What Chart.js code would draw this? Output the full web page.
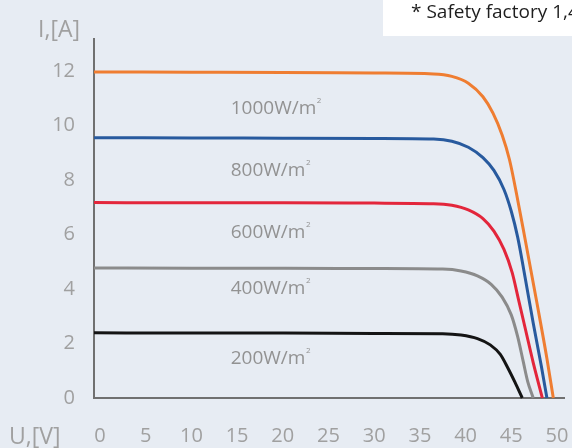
<!DOCTYPE html>
<html>
<head>
<meta charset="utf-8">
<script src="https://cdn.jsdelivr.net/npm/chart.js@4.4.1/dist/chart.umd.min.js"></script>
<style>
  html, body { margin: 0; padding: 0; background: #e7ecf3; }
  #wrap { width: 572px; height: 448px; position: relative; }
</style>
</head>
<body>
<div id="wrap"><canvas id="c"></canvas></div>
<script>
// ---- data ----
const seriesNames = ['1000W/m²', '800W/m²', '600W/m²', '400W/m²', '200W/m²'];
const seriesColors = ['#ef7d31', '#285a9e', '#e3263b', '#8b8b8b', '#141414'];

const u1000 = [-0.66, 10, 20, 30, 36.5, 38.5, 40.3, 41.9, 43.0, 44.0, 44.8, 45.6, 46.5, 47.8, 48.9, 49.6];
const i1000 = [11.96, 11.95, 11.94, 11.92, 11.89, 11.80, 11.55, 11.05, 10.45, 9.65, 8.75, 7.45, 5.85, 3.50, 1.45, 0];

const u800 = [-0.66, 10, 20, 30, 36.5, 38.5, 40.3, 41.9, 43.1, 44.2, 45.0, 45.7, 46.5, 47.4, 48.3, 48.9];
const i800 = [9.55, 9.54, 9.53, 9.52, 9.50, 9.42, 9.20, 8.82, 8.35, 7.65, 6.85, 5.90, 4.45, 2.75, 1.15, 0];

const u600 = [-0.66, 10, 20, 30, 36.5, 38.5, 40.3, 41.9, 43.1, 44.2, 45.1, 45.8, 46.6, 47.4, 48.4];
const i600 = [7.17, 7.16, 7.16, 7.15, 7.13, 7.07, 6.90, 6.58, 6.12, 5.45, 4.60, 3.60, 2.45, 1.30, 0];

const u400 = [-0.66, 10, 20, 30, 37.5, 39.5, 41.3, 42.8, 44.0, 45.0, 45.7, 46.3, 46.8, 47.4];
const i400 = [4.77, 4.76, 4.76, 4.75, 4.73, 4.66, 4.48, 4.17, 3.70, 3.05, 2.25, 1.35, 0.60, 0];

const u200 = [-0.66, 10, 20, 30, 37.5, 39.5, 41.3, 42.7, 43.8, 44.6, 45.4, 46.2];
const i200 = [2.39, 2.38, 2.38, 2.37, 2.36, 2.31, 2.18, 1.95, 1.60, 1.12, 0.58, 0];

const xTicks = [0, 5, 10, 15, 20, 25, 30, 35, 40, 45, 50];
const yTicks = [0, 2, 4, 6, 8, 10, 12];

// label anchor positions (data units) for irradiance captions
const captionU = [14.3, 14.3, 14.3, 14.3, 14.3];
const captionI = [10.62, 8.33, 6.05, 4.0, 1.44];

const xTitle = 'U,[V]';
const yTitle = 'I,[A]';
const noteText = '* Safety factory 1,4';

// ---- build ----
const uSets = [u1000, u800, u600, u400, u200];
const iSets = [i1000, i800, i600, i400, i200];
const datasets = seriesNames.map((name, k) => ({
  label: name,
  data: uSets[k].map((u, j) => ({ x: u, y: iSets[k][j] })),
  borderColor: seriesColors[k],
  borderWidth: 3,
  pointRadius: 0,
  fill: false,
  cubicInterpolationMode: 'monotone',
  clip: false
}));

const TICK_FONT = { family: 'Open Sans', size: 20 };
const TICK_COLOR = '#a0a0a0';

const decor = {
  id: 'decor',
  beforeDraw(chart) {
    const ctx = chart.ctx;
    ctx.save();
    ctx.fillStyle = '#e7ecf3';
    ctx.fillRect(0, 0, chart.width, chart.height);
    // note box
    ctx.fillStyle = '#ffffff';
    ctx.fillRect(383, 0, chart.width - 383, 36);
    ctx.fillStyle = '#1e1e1e';
    ctx.font = '19px "Open Sans"';
    ctx.textBaseline = 'alphabetic';
    ctx.textAlign = 'left';
    ctx.fillText(noteText, 411, 18);
    ctx.restore();
  },
  afterDraw(chart) {
    const ctx = chart.ctx;
    const xs = chart.scales.x, ys = chart.scales.y;
    ctx.save();
    // axis titles
    ctx.fillStyle = TICK_COLOR;
    ctx.font = '23px "Open Sans"';
    ctx.textBaseline = 'middle';
    ctx.textAlign = 'left';
    ctx.fillText(xTitle, 9, 437);
    ctx.fillText(yTitle, 38, 30);
    // captions
    seriesNames.forEach((name, k) => {
      const main = name.slice(0, -1);
      const sup = name.slice(-1) === '²' ? '2' : '';
      const px = xs.getPixelForValue(captionU[k]);
      const py = ys.getPixelForValue(captionI[k]);
      ctx.fillStyle = '#929292';
      ctx.font = '19px "Open Sans"';
      ctx.textAlign = 'left';
      ctx.textBaseline = 'middle';
      ctx.fillText(main, px, py);
      const w = ctx.measureText(main).width;
      ctx.font = '8px "Open Sans"';
      ctx.fillText(sup, px + w + 0.5, py - 8);
    });
    ctx.restore();
  }
};

new Chart(document.getElementById('c'), {
  type: 'line',
  data: { datasets },
  options: {
    responsive: true,
    maintainAspectRatio: false,
    animation: false,
    layout: { padding: { top: 39, right: 8, left: 0, bottom: 0 } },
    plugins: { legend: { display: false }, tooltip: { enabled: false } },
    scales: {
      x: {
        type: 'linear',
        min: -0.66,
        max: 50.77,
        grid: { display: false, drawTicks: false },
        border: { display: true, color: '#707070', width: 2 },
        ticks: { font: TICK_FONT, color: TICK_COLOR, padding: 26, maxRotation: 0, autoSkip: false },
        afterBuildTicks(scale) { scale.ticks = xTicks.map(v => ({ value: v })); },
        afterFit(scale) { scale.height = 50; scale.paddingLeft = 0; scale.paddingRight = 0; }
      },
      y: {
        type: 'linear',
        min: 0,
        max: 13.17,
        grid: { display: false, drawTicks: false },
        border: { display: true, color: '#707070', width: 2 },
        ticks: { font: TICK_FONT, color: TICK_COLOR, padding: 19, autoSkip: false },
        afterBuildTicks(scale) { scale.ticks = yTicks.map(v => ({ value: v })); },
        afterFit(scale) { scale.width = 94; scale.paddingTop = 0; scale.paddingBottom = 0; }
      }
    }
  },
  plugins: [decor]
});
</script>
</body>
</html>
